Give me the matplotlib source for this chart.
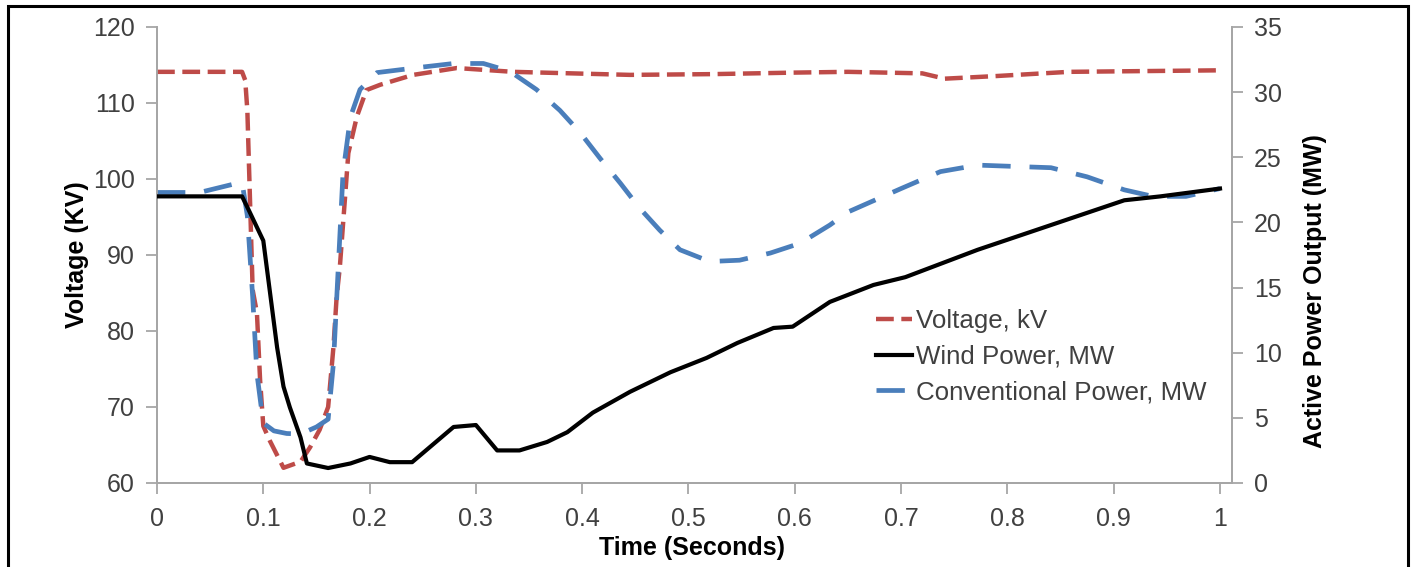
import matplotlib
matplotlib.use('Agg')
import matplotlib.pyplot as plt
from matplotlib.patches import Rectangle

plt.rcParams['font.family'] = ['Liberation Sans', 'DejaVu Sans']

# Voltage (kV) - left axis
volt_t = [0, 0.08, 0.083, 0.085, 0.0875, 0.09, 0.094, 0.097, 0.1, 0.106, 0.119,
          0.135, 0.144, 0.153, 0.161, 0.166, 0.169, 0.172, 0.18, 0.188, 0.197,
          0.21, 0.241, 0.282, 0.335, 0.445, 0.523, 0.6, 0.65, 0.72, 0.741,
          0.79, 0.858, 1.0]
volt_kv = [114.1, 114.1, 113.0, 109.0, 97.2, 85.4, 82.4, 73.5, 67.5, 65.6, 62.0,
           62.8, 64.7, 67.0, 70.0, 77.9, 84.5, 88.4, 103.4, 108.2, 111.7,
           112.4, 113.7, 114.6, 114.1, 113.7, 113.8, 114.0, 114.1, 113.9, 113.2,
           113.55, 114.1, 114.3]

# Wind power (MW) - right axis
wind_t = [0, 0.08, 0.086, 0.1, 0.113, 0.119, 0.125, 0.135, 0.141, 0.161, 0.182,
          0.2, 0.219, 0.24, 0.279, 0.3, 0.32, 0.341, 0.367, 0.386, 0.41, 0.445,
          0.483, 0.517, 0.546, 0.58, 0.598, 0.633, 0.674, 0.704, 0.772, 0.841,
          0.91, 0.944, 1.0]
wind_mw = [22.0, 22.0, 21.0, 18.6, 10.4, 7.4, 5.8, 3.5, 1.5, 1.15, 1.5,
           2.0, 1.6, 1.6, 4.3, 4.45, 2.5, 2.5, 3.15, 3.9, 5.4, 7.0,
           8.5, 9.6, 10.75, 11.9, 12.0, 13.9, 15.2, 15.8, 17.9, 19.8,
           21.7, 22.0, 22.6]

# Conventional power (MW) - right axis
conv_t = [0, 0.04, 0.07, 0.08, 0.085, 0.09, 0.094, 0.1, 0.11, 0.122, 0.135,
          0.15, 0.161, 0.166, 0.175, 0.182, 0.191, 0.207, 0.247, 0.279, 0.307,
          0.332, 0.357, 0.379, 0.398, 0.417, 0.436, 0.454, 0.473, 0.492, 0.52,
          0.548, 0.577, 0.605, 0.633, 0.65, 0.7, 0.737, 0.772, 0.806, 0.841,
          0.875, 0.91, 0.937, 0.968, 1.0]
conv_mw = [22.3, 22.3, 22.9, 23.1, 20.5, 14.3, 8.4, 4.6, 4.0, 3.8, 3.76,
           4.3, 4.9, 9.2, 23.8, 28.1, 30.2, 31.5, 31.9, 32.2, 32.2,
           31.6, 30.2, 28.6, 26.9, 24.9, 23.0, 21.1, 19.4, 17.9, 17.0,
           17.1, 17.65, 18.4, 19.8, 20.8, 22.6, 23.9, 24.4, 24.3, 24.2,
           23.5, 22.5, 22.0, 22.0, 22.6]

x_ticks = [0, 0.1, 0.2, 0.3, 0.4, 0.5, 0.6, 0.7, 0.8, 0.9, 1.0]
x_labels = ['0', '0.1', '0.2', '0.3', '0.4', '0.5', '0.6', '0.7', '0.8', '0.9', '1']
left_ticks = [60, 70, 80, 90, 100, 110, 120]
right_ticks = [0, 5, 10, 15, 20, 25, 30, 35]

RED = '#be4b48'
BLUE = '#4a7ebb'
AXIS = '#a6a6a6'
TICKTXT = '#404040'
FS = 18

fig = plt.figure(figsize=(14.16, 5.67), dpi=100)
ax = fig.add_axes([157 / 1416, 1 - 483 / 567, (1232 - 157) / 1416, (483 - 27) / 567])
ax2 = ax.twinx()

lv, = ax.plot(volt_t, volt_kv, color=RED, lw=3.2, dashes=(4, 1.7),
              label='Voltage, kV', zorder=3)
lw_, = ax2.plot(wind_t, wind_mw, color='black', lw=3.0, label='Wind Power, MW', zorder=3)
lc, = ax2.plot(conv_t, conv_mw, color=BLUE, lw=3.4, dashes=(6, 4),
               label='Conventional Power, MW', zorder=2)

ax.set_xlim(0, 1.0113)
ax.set_ylim(60, 120)
ax2.set_ylim(0, 35)
ax.set_xticks(x_ticks)
ax.set_xticklabels(x_labels)
ax.set_yticks(left_ticks)
ax2.set_yticks(right_ticks)

for a in (ax, ax2):
    for s in a.spines.values():
        s.set_color(AXIS)
        s.set_linewidth(1.3)
    a.spines['top'].set_visible(False)
    a.tick_params(colors=AXIS, labelcolor=TICKTXT, labelsize=FS, length=8,
                  width=1.3, direction='out')
ax.tick_params(axis='y', pad=8)
ax.tick_params(axis='x', pad=9)
ax2.tick_params(axis='y', pad=8)

ax.set_ylabel('Voltage (KV)', fontsize=FS, fontweight='bold', color='black')
ax.yaxis.set_label_coords(-0.0744, 0.5)
ax.yaxis.label.set_va('center')
ax2.set_ylabel('Active Power Output (MW)', fontsize=FS, fontweight='bold',
               color='black')
ax2.yaxis.set_label_coords(1.077, 0.42)
ax2.yaxis.label.set_va('center')
ax.set_xlabel('Time (Seconds)', fontsize=FS, fontweight='bold', color='black')
ax.xaxis.set_label_coords(0.4977, -0.1425)
ax.xaxis.label.set_va('center')

leg = ax2.legend(handles=[lv, lw_, lc], loc='upper left',
                 bbox_to_anchor=(876 / 1416, 1 - 309 / 567),
                 bbox_transform=fig.transFigure, frameon=False, fontsize=18.6,
                 handlelength=1.4, handletextpad=0.15, labelspacing=0.45,
                 borderpad=0, borderaxespad=0)
for t in leg.get_texts():
    t.set_color(TICKTXT)

# outer frame (open at the bottom, as cropped)
fig.patches.append(Rectangle((8 / 1416, -0.1), (1408 - 8) / 1416, 1.1 - 6 / 567,
                             transform=fig.transFigure, fill=False,
                             edgecolor='black', lw=2.2, clip_on=False))

fig.savefig('out.png', dpi=100, facecolor='white')
